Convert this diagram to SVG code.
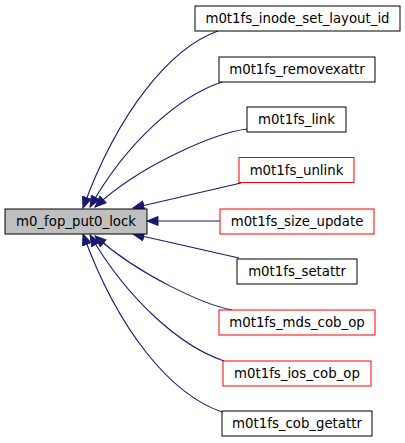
<svg xmlns="http://www.w3.org/2000/svg" width="405" height="443" viewBox="0 0 405 443">
<style>
.n rect{fill:#ffffff;stroke:#000000;stroke-width:1}
.n.r rect{stroke:#ff0000}
.n.m rect{fill:#bfbfbf}
.n text{font-family:"DejaVu Sans",sans-serif;font-size:13.3px;text-anchor:middle;fill:#000000}
.e path{fill:none;stroke:#191970;stroke-width:1.1;marker-end:url(#ah)}
</style>
<defs>
<marker id="ah" markerUnits="userSpaceOnUse" markerWidth="13" markerHeight="11" refX="11.5" refY="5" orient="auto">
<path d="M0.5,0.5 L11.5,5 L0.5,9.5 z" fill="#191970" stroke="#191970"/>
</marker>
</defs>
<g id="edges" class="e">
<path d="M218,31 C170,48 118,112 83,208"/>
<path d="M222,82 C180,96 128,140 90,207"/>
<path d="M247,129 C215,133 140,165 95,207"/>
<path d="M241,183 L133,208"/>
<path d="M220,221 L147,221"/>
<path d="M239,258 L133,234"/>
<path d="M232,310 C205,305 140,276 95,236"/>
<path d="M224,361 C180,346 128,300 90,235"/>
<path d="M222,412 C170,394 118,330 83,234"/>
</g>
<g id="n_main" class="n m"><rect x="5" y="209" width="142" height="25"/><text x="76" y="226">m0_fop_put0_lock</text></g>
<g id="n_inode" class="n"><rect x="195" y="6" width="205" height="25"/><text x="297.5" y="23">m0t1fs_inode_set_layout_id</text></g>
<g id="n_removexattr" class="n"><rect x="219" y="57" width="156" height="25"/><text x="297" y="74">m0t1fs_removexattr</text></g>
<g id="n_link" class="n"><rect x="247" y="107" width="99" height="25"/><text x="296.5" y="124">m0t1fs_link</text></g>
<g id="n_unlink" class="n r"><rect x="239" y="157.5" width="115" height="25"/><text x="296.5" y="174.5">m0t1fs_unlink</text></g>
<g id="n_size" class="n r"><rect x="220" y="209" width="154" height="25"/><text x="297" y="226">m0t1fs_size_update</text></g>
<g id="n_setattr" class="n"><rect x="237" y="259" width="120" height="25"/><text x="297" y="276">m0t1fs_setattr</text></g>
<g id="n_mds" class="n r"><rect x="219" y="310" width="156" height="25"/><text x="297" y="327">m0t1fs_mds_cob_op</text></g>
<g id="n_ios" class="n r"><rect x="223" y="361" width="148" height="25"/><text x="297" y="378">m0t1fs_ios_cob_op</text></g>
<g id="n_getattr" class="n"><rect x="222" y="411" width="150" height="25"/><text x="297" y="428">m0t1fs_cob_getattr</text></g>
</svg>
